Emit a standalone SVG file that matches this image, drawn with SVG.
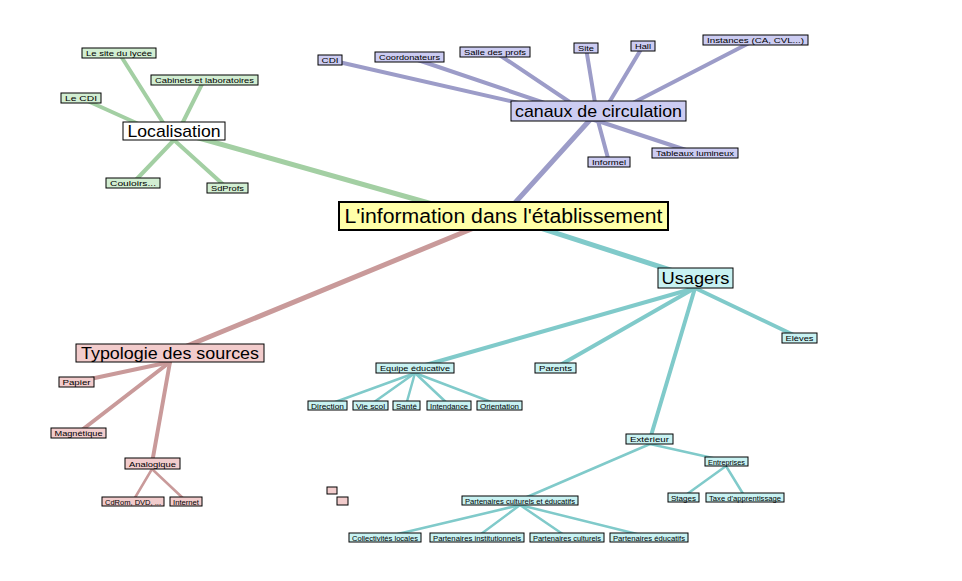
<svg xmlns="http://www.w3.org/2000/svg" width="962" height="581" viewBox="0 0 962 581">
<style>
text{font-family:"Liberation Sans",Arial,sans-serif;fill:#000;text-anchor:middle}
rect{stroke:#000;stroke-width:1}
rect.bg{fill:#fff;stroke:none}
.s text{font-size:8px}
.big text{font-size:17px}
.w rect{fill:#fff}
.g rect{fill:#d2eed2}
.p rect{fill:#ccccf2}
.c rect{fill:#c8f2f2}
.r rect{fill:#f2cccc}
.y rect{fill:#ffffa8;stroke-width:2}
#edges line{stroke-linecap:round}
.eg{stroke:#a3cfa3}
.ep{stroke:#9c9cc8}
.ec{stroke:#80caca}
.er{stroke:#c99a9a}
</style>
<rect class="bg" x="0" y="0" width="962" height="581"/>
<g id="edges" fill="none">
  <line class="eg" x1="503" y1="224" x2="174" y2="131" stroke-width="5"/>
  <line class="ep" x1="503" y1="216" x2="598" y2="111" stroke-width="5"/>
  <line class="ec" x1="503" y1="216" x2="695" y2="278" stroke-width="5"/>
  <line class="er" x1="503" y1="216" x2="170" y2="353" stroke-width="5"/>
  <g class="eg" stroke-width="4">
    <line x1="174" y1="140" x2="119" y2="53"/>
    <line x1="174" y1="140" x2="204" y2="80"/>
    <line x1="174" y1="140" x2="81" y2="98"/>
    <line x1="174" y1="140" x2="133" y2="183"/>
    <line x1="174" y1="140" x2="227" y2="188"/>
  </g>
  <g class="ep" stroke-width="4">
    <line x1="598" y1="121" x2="330" y2="60"/>
    <line x1="598" y1="121" x2="409" y2="57"/>
    <line x1="598" y1="121" x2="495" y2="52"/>
    <line x1="598" y1="121" x2="586" y2="48"/>
    <line x1="598" y1="121" x2="643" y2="46"/>
    <line x1="598" y1="121" x2="755" y2="40"/>
    <line x1="598" y1="121" x2="695" y2="153"/>
    <line x1="598" y1="121" x2="609" y2="162"/>
  </g>
  <g class="ec" stroke-width="4">
    <line x1="695" y1="288" x2="800" y2="338"/>
    <line x1="695" y1="288" x2="555" y2="368"/>
    <line x1="695" y1="288" x2="415" y2="368"/>
    <line x1="695" y1="288" x2="650" y2="439"/>
  </g>
  <g class="ec" stroke-width="2.5">
    <line x1="415" y1="373" x2="327" y2="405"/>
    <line x1="415" y1="373" x2="370" y2="405"/>
    <line x1="415" y1="373" x2="406" y2="405"/>
    <line x1="415" y1="373" x2="449" y2="405"/>
    <line x1="415" y1="373" x2="499" y2="405"/>
    <line x1="650" y1="444" x2="726" y2="461"/>
    <line x1="650" y1="444" x2="520" y2="500"/>
    <line x1="726" y1="466" x2="683" y2="497"/>
    <line x1="726" y1="466" x2="745" y2="497"/>
    <line x1="520" y1="505" x2="385" y2="537"/>
    <line x1="520" y1="505" x2="477" y2="537"/>
    <line x1="520" y1="505" x2="567" y2="537"/>
    <line x1="520" y1="505" x2="649" y2="537"/>
  </g>
  <g class="er" stroke-width="4">
    <line x1="170" y1="362" x2="76" y2="382"/>
    <line x1="170" y1="362" x2="78" y2="433"/>
    <line x1="170" y1="362" x2="152" y2="463"/>
  </g>
  <g class="er" stroke-width="2.5">
    <line x1="152" y1="469" x2="133" y2="501"/>
    <line x1="152" y1="469" x2="186" y2="501"/>
  </g>
</g>

<g id="root" class="y"><rect x="339" y="202" width="329" height="28"/><text x="503.5" y="223" font-size="20" textLength="318" lengthAdjust="spacingAndGlyphs">L'information dans l'établissement</text></g>

<g id="localisation" class="w big"><rect x="123" y="122" width="102" height="18"/><text x="174" y="137" textLength="93" lengthAdjust="spacingAndGlyphs">Localisation</text></g>
<g id="canaux" class="p big"><rect x="511" y="101" width="175" height="20"/><text x="598.5" y="117" textLength="167" lengthAdjust="spacingAndGlyphs">canaux de circulation</text></g>
<g id="usagers" class="c big"><rect x="658" y="268" width="75" height="20"/><text x="695.5" y="284" font-size="18" textLength="68" lengthAdjust="spacingAndGlyphs">Usagers</text></g>
<g id="typologie" class="r big"><rect x="76" y="344" width="188" height="18"/><text x="170" y="359" textLength="178" lengthAdjust="spacingAndGlyphs">Typologie des sources</text></g>

<g class="g s">
  <g id="site-lycee"><rect x="82" y="48" width="74" height="10"/><text x="119" y="56" textLength="66" lengthAdjust="spacingAndGlyphs">Le site du lycée</text></g>
  <g id="cabinets"><rect x="151" y="75" width="107" height="10"/><text x="204.5" y="83" textLength="99" lengthAdjust="spacingAndGlyphs">Cabinets et laboratoires</text></g>
  <g id="le-cdi"><rect x="61" y="93" width="40" height="10"/><text x="81" y="101" textLength="32" lengthAdjust="spacingAndGlyphs">Le CDI</text></g>
  <g id="couloirs"><rect x="106" y="178" width="54" height="10"/><text x="133" y="186" textLength="46" lengthAdjust="spacingAndGlyphs">Couloirs...</text></g>
  <g id="sdprofs"><rect x="207" y="183" width="41" height="10"/><text x="227.5" y="191" textLength="33" lengthAdjust="spacingAndGlyphs">SdProfs</text></g>
</g>

<g class="p s">
  <g id="cdi"><rect x="318" y="55" width="24" height="10"/><text x="330" y="63" textLength="17" lengthAdjust="spacingAndGlyphs">CDI</text></g>
  <g id="coordonateurs"><rect x="375" y="52" width="69" height="10"/><text x="409.5" y="60" textLength="61" lengthAdjust="spacingAndGlyphs">Coordonateurs</text></g>
  <g id="salle-profs"><rect x="460" y="47" width="70" height="10"/><text x="495" y="55" textLength="62" lengthAdjust="spacingAndGlyphs">Salle des profs</text></g>
  <g id="site"><rect x="574" y="43" width="24" height="10"/><text x="586" y="51" textLength="16" lengthAdjust="spacingAndGlyphs">Site</text></g>
  <g id="hall"><rect x="631" y="41" width="24" height="10"/><text x="643" y="49" textLength="16" lengthAdjust="spacingAndGlyphs">Hall</text></g>
  <g id="instances"><rect x="703" y="35" width="105" height="10"/><text x="755.5" y="43" textLength="97" lengthAdjust="spacingAndGlyphs">Instances (CA, CVL...)</text></g>
  <g id="tableaux"><rect x="652" y="148" width="86" height="10"/><text x="695" y="156" textLength="78" lengthAdjust="spacingAndGlyphs">Tableaux lumineux</text></g>
  <g id="informel"><rect x="588" y="157" width="42" height="10"/><text x="609" y="165" textLength="34" lengthAdjust="spacingAndGlyphs">Informel</text></g>
</g>

<g class="c s">
  <g id="eleves"><rect x="782" y="333" width="35" height="10"/><text x="799.5" y="341" textLength="28" lengthAdjust="spacingAndGlyphs">Elèves</text></g>
  <g id="parents"><rect x="535" y="363" width="41" height="10"/><text x="555.5" y="371" textLength="33" lengthAdjust="spacingAndGlyphs">Parents</text></g>
  <g id="equipe"><rect x="376" y="363" width="78" height="10"/><text x="415" y="371" textLength="70" lengthAdjust="spacingAndGlyphs">Equipe éducative</text></g>
  <g id="exterieur"><rect x="626" y="434" width="47" height="10"/><text x="649.5" y="442" textLength="39" lengthAdjust="spacingAndGlyphs">Extérieur</text></g>
</g>

<g class="c s">
  <g id="direction"><rect x="308" y="401" width="39" height="9"/><text x="327.5" y="408.5" font-size="7" textLength="33" lengthAdjust="spacingAndGlyphs">Direction</text></g>
  <g id="vie-scol"><rect x="353" y="401" width="35" height="9"/><text x="370.5" y="408.5" font-size="7" textLength="29" lengthAdjust="spacingAndGlyphs">Vie scol</text></g>
  <g id="sante"><rect x="393" y="401" width="27" height="9"/><text x="406.5" y="408.5" font-size="7" textLength="21" lengthAdjust="spacingAndGlyphs">Santé</text></g>
  <g id="intendance"><rect x="427" y="401" width="44" height="9"/><text x="449" y="408.5" font-size="7" textLength="38" lengthAdjust="spacingAndGlyphs">Intendance</text></g>
  <g id="orientation"><rect x="477" y="401" width="45" height="9"/><text x="499.5" y="408.5" font-size="7" textLength="39" lengthAdjust="spacingAndGlyphs">Orientation</text></g>
  <g id="entreprises"><rect x="705" y="457" width="43" height="9"/><text x="726.5" y="464.5" font-size="7" textLength="37" lengthAdjust="spacingAndGlyphs">Entreprises</text></g>
  <g id="pce"><rect x="462" y="496" width="116" height="9"/><text x="520" y="503.5" font-size="7" textLength="110" lengthAdjust="spacingAndGlyphs">Partenaires culturels et éducatifs</text></g>
  <g id="stages"><rect x="668" y="493" width="31" height="9"/><text x="683.5" y="500.5" font-size="7" textLength="25" lengthAdjust="spacingAndGlyphs">Stages</text></g>
  <g id="taxe"><rect x="706" y="493" width="78" height="9"/><text x="745" y="500.5" font-size="7" textLength="72" lengthAdjust="spacingAndGlyphs">Taxe d'apprentissage</text></g>
  <g id="collectivites"><rect x="349" y="533" width="72" height="9"/><text x="385" y="540.5" font-size="7" textLength="66" lengthAdjust="spacingAndGlyphs">Collectivités locales</text></g>
  <g id="p-institutionnels"><rect x="430" y="533" width="94" height="9"/><text x="477" y="540.5" font-size="7" textLength="88" lengthAdjust="spacingAndGlyphs">Partenaires institutionnels</text></g>
  <g id="p-culturels"><rect x="530" y="533" width="74" height="9"/><text x="567" y="540.5" font-size="7" textLength="68" lengthAdjust="spacingAndGlyphs">Partenaires culturels</text></g>
  <g id="p-educatifs"><rect x="610" y="533" width="78" height="9"/><text x="649" y="540.5" font-size="7" textLength="72" lengthAdjust="spacingAndGlyphs">Partenaires éducatifs</text></g>
</g>

<g class="r s">
  <g id="papier"><rect x="59" y="377" width="35" height="10"/><text x="76.5" y="385" textLength="28" lengthAdjust="spacingAndGlyphs">Papier</text></g>
  <g id="magnetique"><rect x="51" y="428" width="55" height="10"/><text x="78.5" y="436" textLength="48" lengthAdjust="spacingAndGlyphs">Magnétique</text></g>
  <g id="analogique"><rect x="125" y="458" width="55" height="11"/><text x="152.5" y="466.5" textLength="47" lengthAdjust="spacingAndGlyphs">Analogique</text></g>
  <g id="cdrom"><rect x="102" y="497" width="62" height="9"/><text x="133" y="504.5" font-size="7" textLength="56" lengthAdjust="spacingAndGlyphs">CdRom, DVD, ...</text></g>
  <g id="internet"><rect x="170" y="497" width="32" height="9"/><text x="186" y="504.5" font-size="7" textLength="26" lengthAdjust="spacingAndGlyphs">Internet</text></g>
  <g id="empty1"><rect x="327" y="487" width="10" height="7"/></g>
  <g id="empty2"><rect x="337" y="497" width="11" height="8"/></g>
</g>
</svg>
